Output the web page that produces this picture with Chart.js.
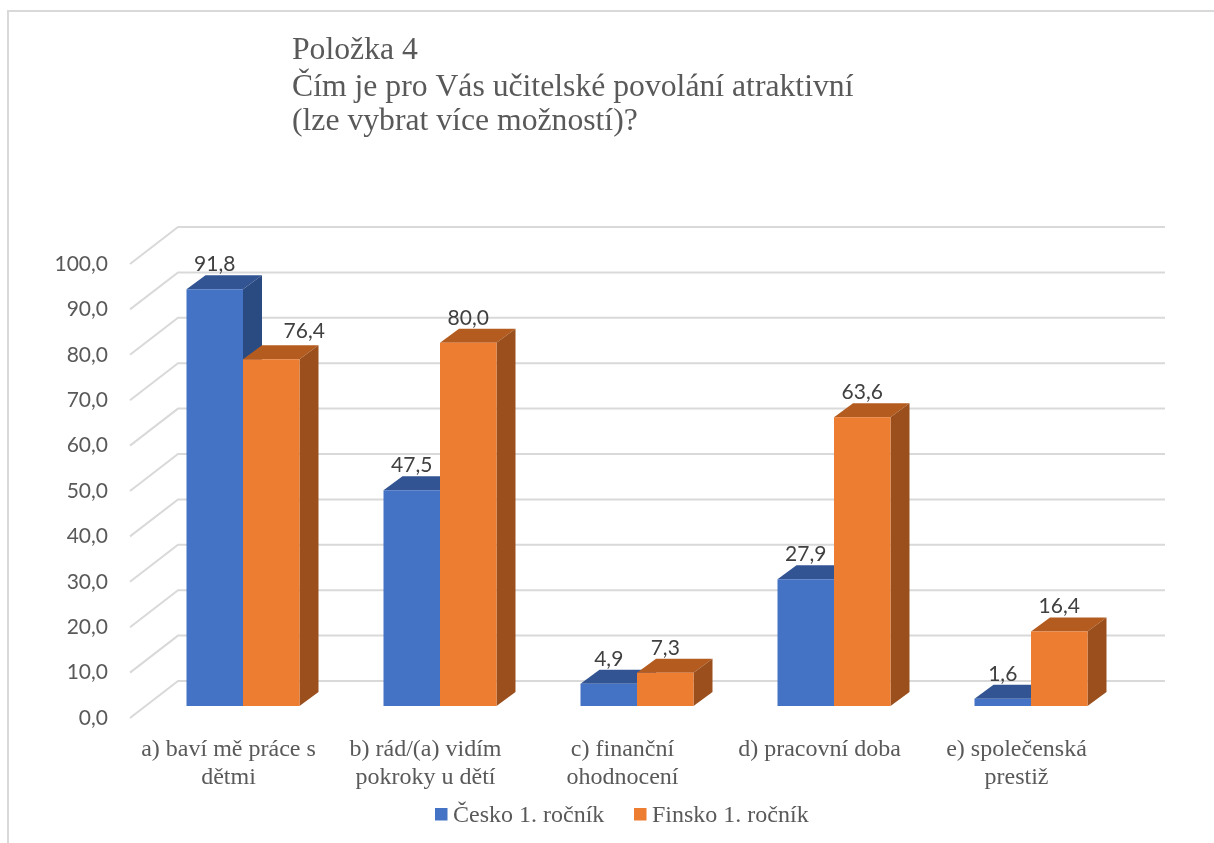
<!DOCTYPE html>
<html>
<head>
<meta charset="utf-8">
<style>
  html, body { margin: 0; padding: 0; background: #fff; }
  #wrap { width: 1214px; height: 843px; }
</style>
<script src="https://cdn.jsdelivr.net/npm/chart.js@4"></script>
</head>
<body>
<div id="wrap"><canvas id="chart" width="1214" height="843"></canvas></div>
<script>
const titleLines = ['Položka 4', 'Čím je pro Vás učitelské povolání atraktivní', '(lze vybrat více možností)?'];
const categories = [
    ['a) baví mě práce s', 'dětmi'],
    ['b) rád/(a) vidím', 'pokroky u dětí'],
    ['c) finanční', 'ohodnocení'],
    'd) pracovní doba',
    ['e) společenská', 'prestiž']
];
const seriesNames = ['Česko 1. ročník', 'Finsko 1. ročník'];
const cesko = [91.8, 47.5, 4.9, 27.9, 1.6];
const finsko = [76.4, 80.0, 7.3, 63.6, 16.4];

const frontColors = ['#4472C4', '#ED7D31'];
const topColors = ['#325493', '#B45C20'];
const sideColors = ['#2A4A82', '#9A4F1D'];

const textColor = '#595959';
const labelFont = '21px Lato';
const serifFont = '"Liberation Serif"';
const depthX = 19, depthY = 14;
const legendX = [435, 634];
const titleBaselines = [59, 96, 130];

function fmt(v) {
    return Number(v).toFixed(1).replace('.', ',');
}

// fake 3D: back wall, grid and the bar tops/sides, the fronts are the real bars
const wall3d = {
    id: 'wall3d',
    beforeDatasetsDraw(chart) {
        const ctx = chart.ctx;
        const y = chart.scales.y;
        ctx.save();
        ctx.strokeStyle = '#D9D9D9';
        ctx.lineWidth = 2;
        y.ticks.forEach(t => {
            const py = y.getPixelForValue(t.value);
            ctx.beginPath();
            ctx.moveTo(130, py + 12);
            ctx.lineTo(178, py - 25);
            ctx.lineTo(1165, py - 25);
            ctx.stroke();
        });
        [0, 1].forEach(d => {
            chart.getDatasetMeta(d).data.forEach(bar => {
                const half = bar.width / 2;
                const l = bar.x - half, r = bar.x + half;
                ctx.fillStyle = topColors[d];
                ctx.beginPath();
                ctx.moveTo(l, bar.y);
                ctx.lineTo(l + depthX, bar.y - depthY);
                ctx.lineTo(r + depthX, bar.y - depthY);
                ctx.lineTo(r, bar.y);
                ctx.closePath();
                ctx.fill();
                ctx.fillStyle = sideColors[d];
                ctx.beginPath();
                ctx.moveTo(r, bar.y);
                ctx.lineTo(r + depthX, bar.y - depthY);
                ctx.lineTo(r + depthX, bar.base - depthY);
                ctx.lineTo(r, bar.base);
                ctx.closePath();
                ctx.fill();
            });
        });
        ctx.restore();
    },
    afterDatasetsDraw(chart) {
        const ctx = chart.ctx;
        ctx.save();
        ctx.font = labelFont;
        ctx.fillStyle = '#404040';
        ctx.textAlign = 'center';
        ctx.textBaseline = 'middle';
        chart.data.datasets.forEach((ds, d) => {
            chart.getDatasetMeta(d).data.forEach((bar, i) => {
                // 76,4 sits off to the right in the original, next to the taller blue bar
                const moved = d === 1 && i === 0;
                ctx.fillText(fmt(ds.data[i]), bar.x + (moved ? 33 : 0), bar.y - (moved ? 28 : 25));
            });
        });
        ctx.restore();
    },
    afterDraw(chart) {
        const ctx = chart.ctx;
        ctx.save();
        ctx.font = '31.7px ' + serifFont;
        ctx.fillStyle = textColor;
        ctx.textBaseline = 'alphabetic';
        titleLines.forEach((line, i) => ctx.fillText(line, 292, titleBaselines[i]));

        // legend, text sits closer to the swatch than the built-in one allows
        ctx.font = '24px ' + serifFont;
        ctx.textBaseline = 'middle';
        seriesNames.forEach((name, i) => {
            ctx.fillStyle = frontColors[i];
            ctx.fillRect(legendX[i], 808, 12.5, 12.5);
            ctx.fillStyle = textColor;
            ctx.fillText(name, legendX[i] + 18, 815.5);
        });

        ctx.strokeStyle = '#D9D9D9';
        ctx.lineWidth = 2;
        ctx.beginPath();
        ctx.moveTo(8, 843);
        ctx.lineTo(8, 11);
        ctx.lineTo(1214, 11);
        ctx.stroke();
        ctx.restore();
    }
};

new Chart(document.getElementById('chart').getContext('2d'), {
    type: 'bar',
    data: {
        labels: categories,
        datasets: [
            { label: seriesNames[0], data: cesko, backgroundColor: frontColors[0] },
            { label: seriesNames[1], data: finsko, backgroundColor: frontColors[1] }
        ]
    },
    options: {
        responsive: false,
        animation: false,
        layout: { padding: { left: 0, right: 84.5, top: 252, bottom: 0 } },
        datasets: { bar: { categoryPercentage: 0.5736, barPercentage: 1 } },
        plugins: {
            title: { display: false },
            tooltip: { enabled: false },
            legend: { display: false }
        },
        scales: {
            x: {
                grid: { display: false },
                border: { display: false },
                afterFit(scale) { scale.height = 137; },
                ticks: {
                    color: textColor,
                    padding: 22,
                    labelOffset: -14.5,
                    maxRotation: 0,
                    autoSkip: false,
                    font: { family: 'Liberation Serif', size: 24, lineHeight: 1.17 }
                }
            },
            y: {
                min: 0,
                max: 100,
                grid: { display: false, drawTicks: false },
                border: { display: false },
                afterFit(scale) { scale.width = 144.5; },
                ticks: {
                    stepSize: 10,
                    color: textColor,
                    padding: 36.5,
                    labelOffset: 12,
                    font: { family: 'Lato', size: 21 },
                    callback: v => fmt(v)
                }
            }
        }
    },
    plugins: [wall3d]
});
</script>
</body>
</html>
